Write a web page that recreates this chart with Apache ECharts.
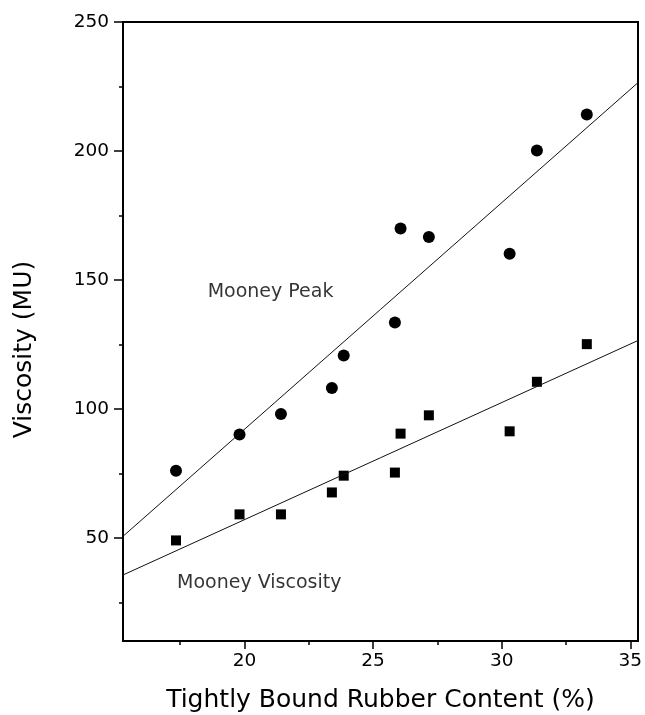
<!DOCTYPE html>
<html>
<head>
<meta charset="utf-8">
<script src="https://cdn.jsdelivr.net/npm/echarts@6/dist/echarts.min.js"></script>
<style>
  html, body { margin: 0; padding: 0; background: #fff; }
  #chart { width: 645px; height: 715px; }
</style>
</head>
<body>
<div id="chart"></div>
<script>
'use strict';

// tightly bound rubber content (%) for each compound
var content = [17.34, 19.81, 21.42, 23.40, 23.86, 25.85, 26.07, 27.17, 30.31, 31.37, 33.31];
// Mooney peak (circles) and Mooney viscosity (squares), MU
var peak = [76.0, 90.1, 98.0, 108.1, 120.7, 133.5, 169.9, 166.6, 160.1, 200.2, 214.1];
var viscosity = [49.0, 59.1, 59.1, 67.6, 74.1, 75.3, 90.4, 97.5, 91.3, 110.5, 125.1];

// fitted straight lines, read at the plot edges
var fitX = [15.28, 35.3];
var peakFit = [50.6, 226.5];
var viscFit = [35.6, 126.5];

// ticks
var xMajor = [20, 25, 30, 35];
var xMinor = [17.5, 22.5, 27.5, 32.5];
var yMajor = [50, 100, 150, 200, 250];
var yMinor = [25, 75, 125, 175, 225];

// annotations
var notes = [
    { name: 'Mooney Peak', x: 18.57, y: 145.1 },
    { name: 'Mooney Viscosity', x: 17.38, y: 32.6 }
];

var FONT = '"DejaVu Sans", Arial, sans-serif';
var X_MIN = 15.28, X_MAX = 35.3, Y_MIN = 10, Y_MAX = 250;

function pairs(xs, ys) {
    var out = [];
    for (var i = 0; i < xs.length; i ++) {
        out.push([xs[i], ys[i]]);
    }
    return out;
}

var chart = echarts.init(document.getElementById('chart'), null, { renderer: 'canvas' });

var option = {
    animation: false,
    backgroundColor: '#fff',
    grid: {
        left: 123, right: 7, top: 22, bottom: 74,
        show: true, borderColor: '#000', borderWidth: 2,
        containLabel: false,
        outerBoundsMode: 'none'
    },
    xAxis: [
        {
            type: 'value', min: X_MIN, max: X_MAX,
            name: 'Tightly Bound Rubber Content (%)',
            nameLocation: 'middle', nameGap: 47,
            nameMoveOverlap: false,
            nameTextStyle: { fontFamily: FONT, fontSize: 25, color: '#000' },
            axisLine: { show: true, lineStyle: { color: '#000', width: 2 } },
            axisTick: { show: true, inside: false, length: 8, customValues: xMajor, lineStyle: { color: '#000', width: 1.5 } },
            axisLabel: { show: true, customValues: xMajor, fontFamily: FONT, fontSize: 18.5, color: '#000', margin: 11 },
            splitLine: { show: false }
        },
        {
            type: 'value', min: X_MIN, max: X_MAX, position: 'bottom',
            axisLine: { show: false },
            axisTick: { show: true, inside: false, length: 4, customValues: xMinor, lineStyle: { color: '#000', width: 1.5 } },
            axisLabel: { show: false },
            splitLine: { show: false }
        }
    ],
    yAxis: [
        {
            type: 'value', min: Y_MIN, max: Y_MAX,
            name: 'Viscosity (MU)',
            nameLocation: 'middle', nameGap: 86, nameRotate: 90,
            nameMoveOverlap: false,
            nameTextStyle: { fontFamily: FONT, fontSize: 25, color: '#000', padding: [0, 36, 0, 0] },
            axisLine: { show: true, lineStyle: { color: '#000', width: 2 } },
            axisTick: { show: true, inside: false, length: 9, customValues: yMajor, lineStyle: { color: '#000', width: 1.5 } },
            axisLabel: { show: true, customValues: yMajor, fontFamily: FONT, fontSize: 18.5, color: '#000', margin: 14 },
            splitLine: { show: false }
        },
        {
            type: 'value', min: Y_MIN, max: Y_MAX, position: 'left',
            axisLine: { show: false },
            axisTick: { show: true, inside: false, length: 4, customValues: yMinor, lineStyle: { color: '#000', width: 1.5 } },
            axisLabel: { show: false },
            splitLine: { show: false }
        }
    ],
    series: [
        {
            name: 'Mooney Peak fit', type: 'line',
            data: pairs(fitX, peakFit),
            symbol: 'none', silent: true,
            lineStyle: { color: '#111', width: 1 }
        },
        {
            name: 'Mooney Viscosity fit', type: 'line',
            data: pairs(fitX, viscFit),
            symbol: 'none', silent: true,
            lineStyle: { color: '#111', width: 1 }
        },
        {
            name: 'Mooney Peak', type: 'scatter',
            data: pairs(content, peak),
            symbol: 'circle', symbolSize: 12,
            itemStyle: { color: '#000', opacity: 1 }
        },
        {
            name: 'Mooney Viscosity', type: 'scatter',
            data: pairs(content, viscosity),
            symbol: 'rect', symbolSize: 10,
            itemStyle: { color: '#000', opacity: 1 }
        },
        {
            name: 'notes', type: 'scatter',
            symbolSize: 0, silent: true,
            data: notes.map(function (n) { return { name: n.name, value: [n.x, n.y] }; }),
            label: {
                show: true, position: 'right', distance: 0,
                formatter: '{b}',
                fontFamily: FONT, fontSize: 19, color: '#000'
            }
        }
    ]
};

chart.setOption(option);
</script>
</body>
</html>
